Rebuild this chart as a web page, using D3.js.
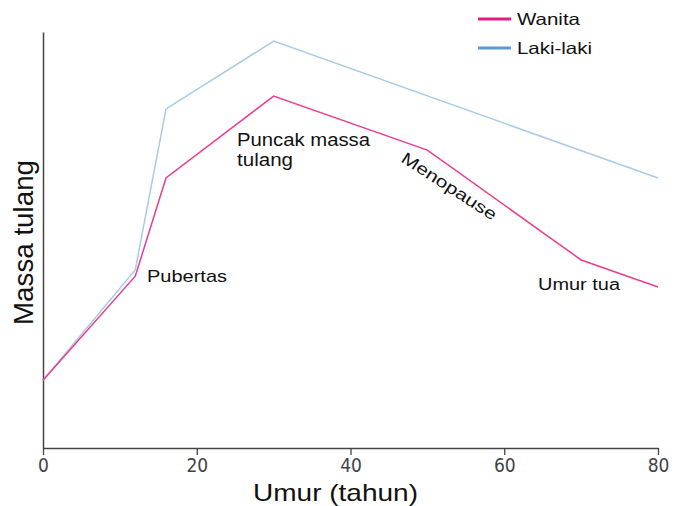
<!DOCTYPE html>
<html><head><meta charset="utf-8">
<script src="https://cdn.jsdelivr.net/npm/d3@7"></script>
<style>body{margin:0;background:#fff}svg{display:block}</style>
</head><body><svg id="c" width="675" height="506"></svg>
<script>
const ageWanita = [0, 12, 16, 30, 50, 70, 80];
const massWanita = [16.3, 41.3, 64.9, 84.6, 71.6, 45.2, 38.7];
const ageLaki = [0, 12, 16, 30, 80];
const massLaki = [16.3, 42.8, 81.5, 97.8, 64.9];
const xTicks = [0, 20, 40, 60, 80];
const seriesNames = ["Wanita", "Laki-laki"];
const legendColors = ["#e5197f", "#5a9bd5"];
const lineColors = ["#ec3d8e", "#a9cbe6"];

const svg = d3.select("#c");
const x = d3.scaleLinear().domain([0, 80]).range([43, 658]);
const y = d3.scaleLinear().domain([0, 100]).range([448, 32]);
const font = "Arial, 'Liberation Sans', sans-serif";

// axes
const xa = svg.append("g").attr("transform", "translate(0,448)")
  .call(d3.axisBottom(x).tickValues(xTicks).tickSize(7).tickSizeOuter(0).tickPadding(4));
xa.select(".domain").attr("stroke", "#444").attr("stroke-width", 1.5);
xa.selectAll(".tick line").attr("stroke", "#444").attr("stroke-width", 1.3);
xa.selectAll(".tick text").attr("fill", "#3f4348").attr("font-size", 19)
  .attr("font-family", "'DejaVu Sans Condensed', 'DejaVu Sans', sans-serif").attr("font-weight", 300);
const ya = svg.append("g").attr("transform", "translate(43,0)")
  .call(d3.axisLeft(y).tickValues([]).tickSizeOuter(0));
ya.select(".domain").attr("stroke", "#444").attr("stroke-width", 1.5);

const line = d3.line().x(d => x(d[0])).y(d => y(d[1]));
svg.append("path").datum(ageLaki.map((a, i) => [a, massLaki[i]]))
  .attr("d", line).attr("fill", "none").attr("stroke", lineColors[1]).attr("stroke-width", 1.5);
svg.append("path").datum(ageWanita.map((a, i) => [a, massWanita[i]]))
  .attr("d", line).attr("fill", "none").attr("stroke", lineColors[0]).attr("stroke-width", 1.5);

const txt = (t, ax, ay, size, len, rot) => {
  const e = svg.append("text")
    .attr("transform", `translate(${ax},${ay}) rotate(${rot || 0})`)
    .attr("font-family", font).attr("font-size", size).attr("fill", "#111").text(t);
  if (len) e.attr("textLength", len).attr("lengthAdjust", "spacingAndGlyphs");
  return e;
};

// legend
const legLens = [63, 75];
seriesNames.forEach((n, i) => {
  const gy = 19 + i * 29;
  svg.append("line").attr("x1", 478).attr("x2", 511).attr("y1", gy).attr("y2", gy)
    .attr("stroke", legendColors[i]).attr("stroke-width", 3);
  txt(n, 517, gy + 6, 16.5, legLens[i]);
});

// axis labels
txt("Umur (tahun)", 253, 501, 24, 165);
txt("Massa tulang", 33, 325, 28, 165, -90);

// annotations
txt("Pubertas", 147, 282, 17, 80);
txt("Puncak massa", 237, 146, 17.5, 133);
txt("tulang", 237, 166, 17.5, 56);
txt("Menopause", 400, 161, 16.5, 110, 33);
txt("Umur tua", 538, 290, 16, 82);
</script></body></html>
